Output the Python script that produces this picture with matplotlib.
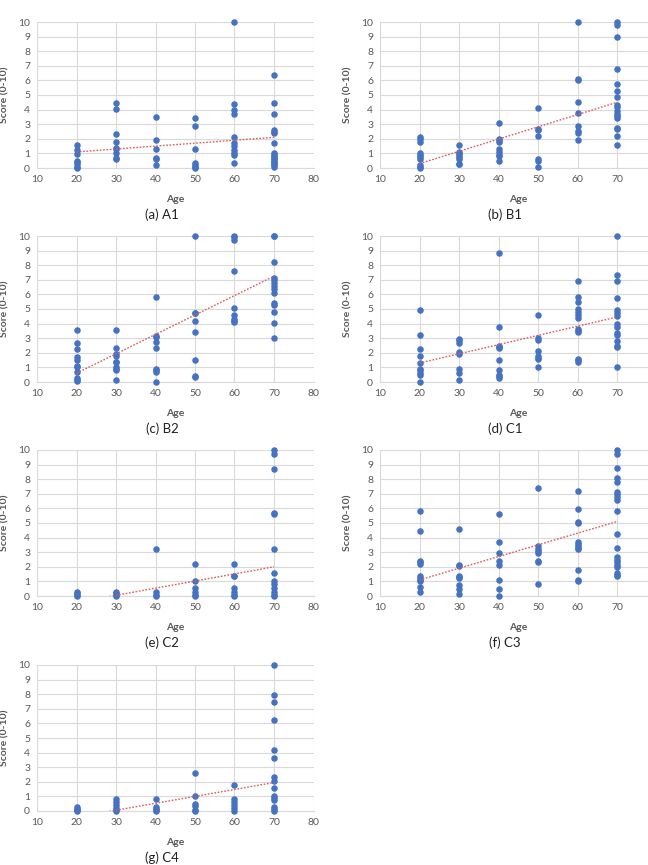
import numpy as np
import matplotlib
matplotlib.use("Agg")
import matplotlib.pyplot as plt

plt.rcParams['font.family'] = ['Lato', 'DejaVu Sans']

ages = [20, 30, 40, 50, 60, 70]

# scores per age group
a1 = [[1.6, 1.2, 0.95, 0.5, 0.4, 0.25, 0.1, 0.0],
      [4.45, 4.05, 2.35, 1.75, 1.4, 1.3, 1.0, 0.7, 0.6],
      [3.5, 1.95, 1.3, 0.7, 0.6, 0.2],
      [3.4, 2.85, 1.3, 0.35, 0.2, 0.1, 0.0],
      [10, 4.4, 4.0, 3.7, 2.1, 1.7, 1.5, 1.2, 1.0, 0.9, 0.35],
      [6.4, 4.45, 3.7, 2.6, 2.5, 2.4, 1.7, 1.0, 0.9, 0.8, 0.7, 0.6, 0.5, 0.4, 0.3, 0.2, 0.1]]
b1 = [[2.1, 2.0, 1.75, 1.05, 0.9, 0.75, 0.6, 0.2, 0.1, 0.0],
      [1.55, 1.1, 1.0, 0.9, 0.75, 0.6, 0.3, 0.25],
      [3.1, 2.0, 1.9, 1.8, 1.3, 1.1, 0.9, 0.8, 0.5],
      [4.1, 2.7, 2.6, 2.2, 0.65, 0.45, 0.1],
      [10, 6.1, 6.0, 4.55, 3.8, 2.9, 2.55, 2.4, 1.95],
      [10, 9.8, 9.0, 6.8, 5.75, 5.3, 4.85, 4.3, 4.2, 3.9, 3.7, 3.55, 3.45, 2.75, 2.65, 2.2, 1.55]]
b2 = [[3.55, 2.7, 2.25, 1.7, 1.5, 1.1, 1.0, 0.7, 0.3, 0.15, 0.05],
      [3.55, 2.35, 1.9, 1.8, 1.4, 1.35, 1.0, 0.9, 0.8, 0.15],
      [5.8, 3.15, 3.05, 2.75, 2.35, 0.9, 0.8, 0.7, 0.0],
      [10, 4.75, 4.7, 4.15, 3.4, 1.5, 0.4, 0.35],
      [10, 9.95, 9.7, 7.6, 5.05, 4.6, 4.3, 4.2, 4.1],
      [10, 10, 8.25, 7.15, 7.0, 6.8, 6.6, 6.4, 6.1, 5.4, 5.3, 4.8, 4.05, 3.0]]
c1 = [[4.95, 3.2, 2.25, 1.8, 1.3, 0.9, 0.8, 0.6, 0.5, 0.0],
      [2.95, 2.85, 2.7, 2.05, 1.9, 0.9, 0.6, 0.15],
      [8.85, 3.8, 2.5, 2.4, 2.3, 1.5, 0.8, 0.5, 0.4, 0.3],
      [4.6, 3.0, 2.9, 2.15, 1.8, 1.65, 1.55, 1.0],
      [6.9, 5.85, 5.5, 5.0, 4.8, 4.6, 4.35, 3.6, 3.5, 3.4, 1.6, 1.5, 1.4],
      [10, 7.35, 6.9, 5.75, 4.95, 4.7, 4.5, 3.95, 3.8, 3.35, 3.2, 2.8, 2.5, 2.4, 1.0]]
c2 = [[0.3, 0.2, 0.1, 0.0],
      [0.3, 0.2, 0.1, 0.0],
      [3.25, 0.3, 0.1, 0.0],
      [2.2, 1.05, 0.55, 0.3, 0.1, 0.0],
      [2.2, 1.4, 1.35, 0.55, 0.3, 0.1, 0.0],
      [10, 9.75, 8.7, 5.7, 5.65, 3.25, 1.6, 1.05, 0.8, 0.55, 0.3, 0.1, 0.0]]
c3 = [[5.8, 4.45, 2.4, 2.3, 2.2, 1.4, 1.25, 1.1, 1.0, 0.6, 0.25],
      [4.6, 2.15, 2.05, 1.4, 1.3, 1.25, 0.75, 0.5, 0.15],
      [5.6, 3.7, 2.95, 2.4, 2.15, 1.1, 0.5, 0.0],
      [7.4, 3.4, 3.2, 3.05, 2.95, 2.4, 2.3, 0.85],
      [7.2, 5.95, 5.05, 5.0, 3.7, 3.55, 3.45, 3.3, 3.2, 1.75, 1.1, 1.0],
      [10, 9.7, 8.75, 8.1, 7.8, 7.1, 7.0, 6.8, 6.55, 5.85, 4.25, 3.3, 2.65, 2.5, 2.3, 2.1, 2.0, 1.55, 1.45, 1.35]]
c4 = [[0.25, 0.15, 0.05, 0.0],
      [0.8, 0.6, 0.4, 0.2, 0.1, 0.0],
      [0.8, 0.3, 0.15, 0.05, 0.0],
      [2.6, 1.05, 0.5, 0.35, 0.1, 0.0],
      [1.8, 0.8, 0.6, 0.4, 0.2, 0.0],
      [10, 7.95, 7.45, 6.2, 4.15, 3.6, 2.35, 2.05, 1.55, 1.05, 0.9, 0.75, 0.3, 0.15, 0.0]]

# linear trendline value at age 20 and age 70
trend_a1 = [1.1, 2.1]
trend_b1 = [0.3, 4.5]
trend_b2 = [0.6, 7.25]
trend_c1 = [1.3, 4.45]
trend_c2 = [-0.44, 2.0]
trend_c3 = [1.1, 5.1]
trend_c4 = [-0.42, 1.95]

panels = [("(a) A1", a1, trend_a1), ("(b) B1", b1, trend_b1),
          ("(c) B2", b2, trend_b2), ("(d) C1", c1, trend_c1),
          ("(e) C2", c2, trend_c2), ("(f) C3", c3, trend_c3),
          ("(g) C4", c4, trend_c4)]

W, H = 648, 865
fig = plt.figure(figsize=(W / 100, H / 100), dpi=100)

lefts = [37, 380]
tops = [22, 236, 450, 665]
pw, ph = 276.5, 146
grey = "#595959"

for i, (caption, groups, trend) in enumerate(panels):
    col, row = i % 2, i // 2
    x0 = lefts[col]
    y0 = tops[row]
    ax = fig.add_axes([x0 / W, 1 - (y0 + ph) / H, pw / W, ph / H])

    xs, ys = [], []
    for age, vals in zip(ages, groups):
        xs += [age] * len(vals)
        ys += vals
    ax.scatter(xs, ys, s=22, color="#4472C4", zorder=3, clip_on=False, linewidths=0)
    ax.plot([20, 70], trend, color="#E05A5A", lw=1.0, ls=(0, (1.2, 1.2)), zorder=4)

    ax.set_xlim(10, 80)
    ax.set_ylim(0, 10)
    ax.set_xticks(range(10, 81, 10))
    if col == 1:
        # the right column runs past the page edge, so its 80 is not shown
        ax.set_xticklabels([str(v) for v in range(10, 71, 10)] + [""])
    ax.set_yticks(range(0, 11))
    ax.grid(True, color="#D9D9D9", lw=0.8)
    ax.set_axisbelow(True)
    for s in ["top", "right", "left"]:
        ax.spines[s].set_visible(False)
    ax.spines["bottom"].set_color("#D9D9D9")
    ax.tick_params(length=0, labelsize=7.5, colors=grey, pad=5)
    ax.set_xlabel("Age", fontsize=7.5, color=grey, fontweight="bold", labelpad=8)
    ax.set_ylabel("Score (0-10)", fontsize=7.5, color=grey, fontweight="bold")
    ax.yaxis.set_label_coords(-28 / pw, 0.5)

    fig.text((x0 + 125) / W, 1 - (y0 + 193) / H, caption, fontsize=9.5,
             ha="center", va="center", color="#222222")

fig.savefig("out.png", dpi=100)
